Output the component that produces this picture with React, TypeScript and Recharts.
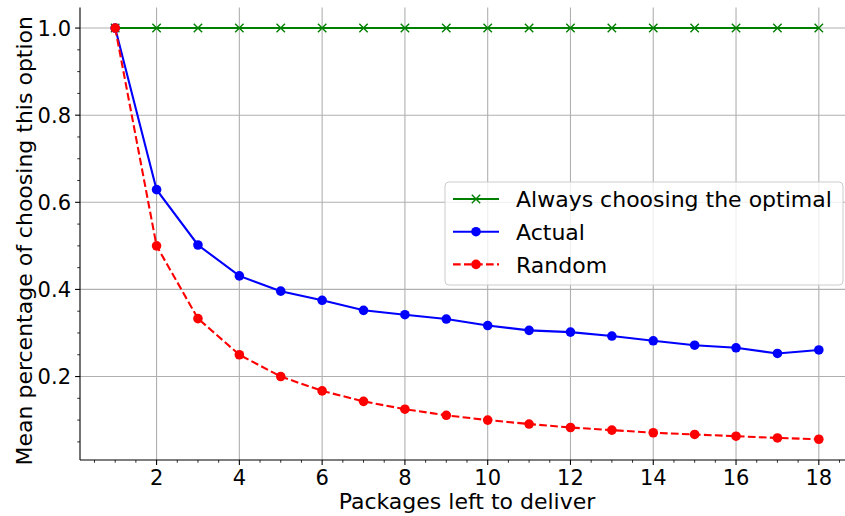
import { LineChart, Line, XAxis, YAxis, CartesianGrid } from 'recharts';

const FONT = '"DejaVu Sans", sans-serif';

const PACKAGES = [1, 2, 3, 4, 5, 6, 7, 8, 9, 10, 11, 12, 13, 14, 15, 16, 17, 18];
const OPTIMAL = [1, 1, 1, 1, 1, 1, 1, 1, 1, 1, 1, 1, 1, 1, 1, 1, 1, 1];
const ACTUAL = [1.0, 0.629, 0.502, 0.431, 0.396, 0.375, 0.352, 0.342, 0.332, 0.317, 0.306, 0.302, 0.293, 0.282, 0.272, 0.266, 0.253, 0.261];
const RANDOM = [1.0, 0.5, 0.333, 0.25, 0.2, 0.167, 0.143, 0.125, 0.111, 0.1, 0.091, 0.083, 0.077, 0.071, 0.067, 0.063, 0.059, 0.056];

const X_TICKS = [2, 4, 6, 8, 10, 12, 14, 16, 18];
const Y_TICKS = [0.2, 0.4, 0.6, 0.8, 1.0];
const Y_TICK_LABELS = ['0.2', '0.4', '0.6', '0.8', '1.0'];

// minor ticks every 0.5 on x and 0.05 on y
const X_MINOR = Array.from({ length: 37 }, (_, i) => 0.5 + i * 0.5);
const Y_MINOR = Array.from({ length: 20 }, (_, i) => Math.round((i + 1) * 5) / 100);

const X_DOMAIN = [0.15, 18.85];
const Y_DOMAIN = [0.0084, 1.0472];

const SERIES = [
  { key: 'optimal', name: 'Always choosing the optimal', color: '#008000', dashed: false, marker: 'x' },
  { key: 'actual', name: 'Actual', color: '#0000ff', dashed: false, marker: 'o' },
  { key: 'random', name: 'Random', color: '#ff0000', dashed: true, marker: 'o' },
];

const data = PACKAGES.map((p, i) => ({
  x: p,
  optimal: OPTIMAL[i],
  actual: ACTUAL[i],
  random: RANDOM[i],
}));

const isMajorX = (v: number) => X_TICKS.some((t) => Math.abs(t - v) < 1e-6);
const majorYIndex = (v: number) => Y_TICKS.findIndex((t) => Math.abs(t - v) < 1e-6);

const XTick = (props: any) => {
  const { x, y, payload } = props;
  const major = isMajorX(payload.value);
  return (
    <g>
      <line x1={x} x2={x} y1={y} y2={y + (major ? 4.9 : 2.8)} stroke="#000" strokeWidth={major ? 1.1 : 0.8} />
      {major && (
        <text x={x} y={y + 25} textAnchor="middle" fontSize={21} fontFamily={FONT} fill="#000">
          {payload.value}
        </text>
      )}
    </g>
  );
};

const YTick = (props: any) => {
  const { x, y, payload } = props;
  const idx = majorYIndex(payload.value);
  const major = idx >= 0;
  return (
    <g>
      <line x1={x} x2={x - (major ? 4.9 : 2.8)} y1={y} y2={y} stroke="#000" strokeWidth={major ? 1.1 : 0.8} />
      {major && (
        <text x={x - 9} y={y + 7.5} textAnchor="end" fontSize={21} fontFamily={FONT} fill="#000">
          {Y_TICK_LABELS[idx]}
        </text>
      )}
    </g>
  );
};

const XLabel = (props: any) => {
  const { viewBox } = props;
  return (
    <text x={viewBox.x + viewBox.width / 2} y={viewBox.y + 49} textAnchor="middle" fontSize={22} fontFamily={FONT} fill="#000">
      Packages left to deliver
    </text>
  );
};

const YLabel = (props: any) => {
  const { viewBox } = props;
  const x = viewBox.x + 32;
  const y = viewBox.y + viewBox.height / 2 + 7;
  return (
    <text x={x} y={y} transform={`rotate(-90, ${x}, ${y})`} textAnchor="middle" fontSize={22} fontFamily={FONT} fill="#000">
      Mean percentage of choosing this option
    </text>
  );
};

// grid positions: use the axis scale when recharts hands it over, else map through the plot offset
const gridX = ({ xAxis, offset }: any) =>
  X_TICKS.map((v) =>
    xAxis && typeof xAxis.scale === 'function'
      ? xAxis.scale(v)
      : offset.left + ((v - X_DOMAIN[0]) / (X_DOMAIN[1] - X_DOMAIN[0])) * offset.width
  );
const gridY = ({ yAxis, offset }: any) =>
  Y_TICKS.map((v) =>
    yAxis && typeof yAxis.scale === 'function'
      ? yAxis.scale(v)
      : offset.top + ((Y_DOMAIN[1] - v) / (Y_DOMAIN[1] - Y_DOMAIN[0])) * offset.height
  );

const CrossDot = (props: any) => {
  const { cx, cy } = props;
  const h = 4.2;
  return (
    <path
      d={`M${cx - h},${cy - h}L${cx + h},${cy + h}M${cx - h},${cy + h}L${cx + h},${cy - h}`}
      stroke="#008000"
      strokeWidth={1.4}
      fill="none"
    />
  );
};

const LegendBox = () => (
  <svg width={400} height={105} style={{ position: 'absolute', left: 444, top: 181 }}>
    <rect x={1} y={1} width={398} height={103} rx={4} ry={4} fill="#fff" fillOpacity={0.8} stroke="#cccccc" strokeWidth={1} />
    {SERIES.map((s, i) => {
      const cy = 18 + i * 32.7;
      return (
        <g key={s.key}>
          <line x1={9} x2={55} y1={cy} y2={cy} stroke={s.color} strokeWidth={2.1} strokeDasharray={s.dashed ? '7.7 3.3' : undefined} />
          {s.marker === 'x' ? (
            <path d={`M27.8,${cy - 4.2}L36.2,${cy + 4.2}M27.8,${cy + 4.2}L36.2,${cy - 4.2}`} stroke={s.color} strokeWidth={1.4} />
          ) : (
            <circle cx={32} cy={cy} r={4.8} fill={s.color} />
          )}
          <text x={72} y={cy + 8.3} fontSize={22} fontFamily={FONT} fill="#000">
            {s.name}
          </text>
        </g>
      );
    })}
  </svg>
);

export default function App() {
  return (
    <div style={{ position: 'absolute', left: 0, top: 0, width: 845, height: 516, overflow: 'hidden', background: '#fff' }}>
      <LineChart width={860} height={516} data={data} margin={{ top: 7.5, right: 6, bottom: 0, left: 0 }}>
        <CartesianGrid
          stroke="#b0b0b0"
          strokeWidth={1.1}
          verticalCoordinatesGenerator={gridX}
          horizontalCoordinatesGenerator={gridY}
        />
        <XAxis
          dataKey="x"
          type="number"
          domain={X_DOMAIN}
          allowDataOverflow
          ticks={X_MINOR}
          interval={0}
          tick={<XTick />}
          tickLine={false}
          tickSize={0}
          tickMargin={0}
          height={56}
          axisLine={{ stroke: '#000', strokeWidth: 1.1 }}
          label={<XLabel />}
        />
        <XAxis
          xAxisId="top"
          dataKey="x"
          type="number"
          orientation="top"
          domain={X_DOMAIN}
          allowDataOverflow
          tick={false}
          tickLine={false}
          height={0}
          axisLine={{ stroke: '#000', strokeWidth: 1.1 }}
        />
        <YAxis
          type="number"
          domain={Y_DOMAIN}
          allowDataOverflow
          ticks={Y_MINOR}
          interval={0}
          tick={<YTick />}
          tickLine={false}
          tickSize={0}
          tickMargin={0}
          width={80}
          axisLine={{ stroke: '#000', strokeWidth: 1.1 }}
          label={<YLabel />}
        />
        <Line
          dataKey="optimal"
          name="Always choosing the optimal"
          stroke="#008000"
          strokeWidth={2.1}
          dot={(p: any) => <CrossDot {...p} key={`x-${p.index}`} />}
          activeDot={false}
          isAnimationActive={false}
        />
        <Line
          dataKey="actual"
          name="Actual"
          stroke="#0000ff"
          strokeWidth={2.1}
          dot={{ r: 4.8, fill: '#0000ff', stroke: 'none' }}
          activeDot={false}
          isAnimationActive={false}
        />
        <Line
          dataKey="random"
          name="Random"
          stroke="#ff0000"
          strokeWidth={2.1}
          strokeDasharray="7.7 3.3"
          dot={{ r: 4.8, fill: '#ff0000', stroke: 'none' }}
          activeDot={false}
          isAnimationActive={false}
        />
      </LineChart>
      <LegendBox />
    </div>
  );
}
